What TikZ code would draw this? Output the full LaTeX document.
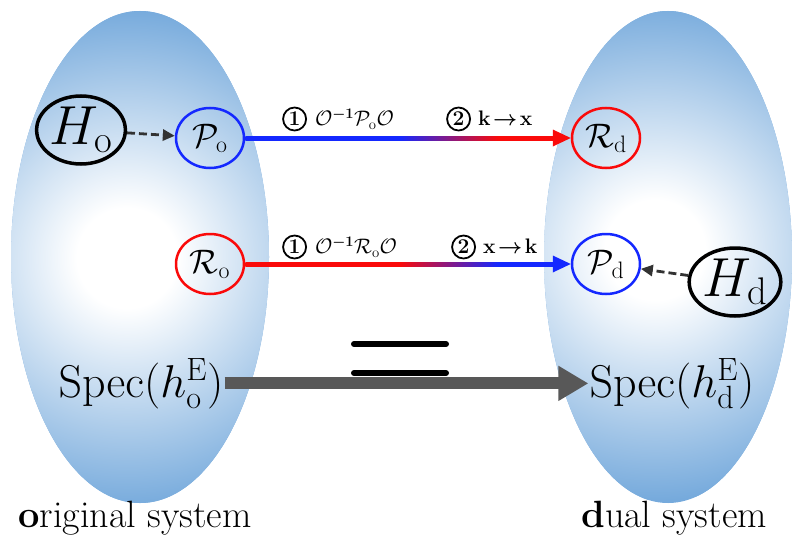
\RequirePackage{fix-cm}
\documentclass[tikz,border=0pt]{standalone}
\usepackage{amsmath,bm}
\usetikzlibrary{shapes.geometric,arrows.meta}
\definecolor{ellblue}{RGB}{118,170,220}
\definecolor{myblue}{RGB}{20,40,255}
\definecolor{myred}{RGB}{250,10,10}
\definecolor{dashgray}{RGB}{50,50,50}
\definecolor{bargray}{RGB}{88,88,88}
\pgfdeclarehorizontalshading{bluered}{100bp}{color(0bp)=(myblue); color(50bp)=(myblue); color(66bp)=(myred); color(100bp)=(myred)}
\pgfdeclarehorizontalshading{redblue}{100bp}{color(0bp)=(myred); color(50bp)=(myred); color(66bp)=(myblue); color(100bp)=(myblue)}
\pgfdeclareradialshading{ellsh}{\pgfpoint{0bp}{0bp}}{color(0bp)=(white); color(5bp)=(white); color(25bp)=(ellblue); color(50bp)=(ellblue)}
\newcommand\cnum[1]{\tikz[baseline=(cn.base)]\node[draw,circle,line width=1.8pt,inner sep=0pt,minimum size=23pt,font=\fontsize{21}{21}\selectfont\bfseries](cn){#1};}
\tikzset{
 pnode/.style={ellipse, draw=myblue, line width=2.5pt, minimum width=68pt, minimum height=60pt, inner sep=0pt, font=\fontsize{34}{34}\selectfont},
 rnode/.style={pnode, draw=myred},
 hnode/.style={ellipse, draw=black, line width=3.5pt, minimum width=86pt, minimum height=68pt, inner sep=0pt, font=\fontsize{55}{55}\selectfont},
 dasharr/.style={draw=dashgray, line width=2.8pt, dash pattern=on 8pt off 4pt, -{Triangle[length=12pt,width=11pt]}},
 lab/.style={font=\fontsize{21}{21}\selectfont, inner sep=0pt, anchor=west},
 spec/.style={font=\fontsize{46}{46}\selectfont, inner sep=1pt, anchor=base},
 sysl/.style={font=\fontsize{38}{38}\selectfont, inner sep=0pt, anchor=base},
}
\begin{document}
\begin{tikzpicture}[x=1pt,y=-1pt]
\useasboundingbox (0,0) rectangle (792,535);
% ellipses
\fill[ellblue] (140,257) ellipse [x radius=129, y radius=246];
\begin{scope}
\clip (140,257) ellipse [x radius=129, y radius=246];
\shade[shading=ellsh] (127,258) circle [radius=250];
\end{scope}
\fill[ellblue] (668,257) ellipse [x radius=124, y radius=246];
\begin{scope}
\clip (668,257) ellipse [x radius=124, y radius=246];
\shade[shading=ellsh] (655,250) circle [radius=250];
\end{scope}
% nodes
\node[hnode] (Ho) at (81,130) {$H_{\mathrm{o}}$};
\node[pnode] (Po) at (210,138) {$\mathcal{P}_{\mathrm{o}}$};
\node[rnode] (Ro) at (210,264) {$\mathcal{R}_{\mathrm{o}}$};
\node[rnode] (Rd) at (606,138) {$\mathcal{R}_{\mathrm{d}}$};
\node[pnode] (Pd) at (606,264) {$\mathcal{P}_{\mathrm{d}}$};
\node[hnode] (Hd) at (735,282) {$H_{\mathrm{d}}$};
\draw[dasharr] (Ho) -- (Po);
\draw[dasharr] (Hd) -- (Pd);
% gradient arrows
\coordinate (a1) at ([xshift=-18pt]Rd.west);
\coordinate (a1b) at ([xshift=1pt]a1);
\shade[shading=bluered] ([yshift=2pt]Po.east) rectangle ([yshift=-2pt]a1b);
\fill[myred] (Rd.west) -- ([yshift=8.5pt]a1) -- ([yshift=-8.5pt]a1) -- cycle;
\coordinate (a2) at ([xshift=-18pt]Pd.west);
\coordinate (a2b) at ([xshift=1pt]a2);
\shade[shading=redblue] ([yshift=2pt]Ro.east) rectangle ([yshift=-2pt]a2b);
\fill[myblue] (Pd.west) -- ([yshift=8.5pt]a2) -- ([yshift=-8.5pt]a2) -- cycle;
% labels
\node[lab] (l1) at (282,119) {\cnum{1}\hspace{8pt}$\mathcal{O}^{\bm{-1}}\mathcal{P}_{\mathrm{o}}\mathcal{O}$};
\node[lab] (l2) at (446,119) {\cnum{2}\hspace{7pt}{\boldmath$\mathbf{k}\!\rightarrow\!\mathbf{x}$}};
\node[lab] (l3) at (282,247) {\cnum{1}\hspace{8pt}$\mathcal{O}^{\bm{-1}}\mathcal{R}_{\mathrm{o}}\mathcal{O}$};
\node[lab] (l4) at (451,247) {\cnum{2}\hspace{7pt}{\boldmath$\mathbf{x}\!\rightarrow\!\mathbf{k}$}};
% spectra
\node[spec] (So) at (141,397) {$\mathrm{Spec}(h_{\mathrm{o}}^{\mathrm{E}})$};
\node[spec] (Sd) at (672,397) {$\mathrm{Spec}(h_{\mathrm{d}}^{\mathrm{E}})$};
\draw[bargray, line width=12pt, -{Triangle[length=30pt,width=33pt]}] (So.east) -- (Sd.west);
\draw[line width=6pt, line cap=round] (354,344) -- (446,344) (354,373) -- (446,373);
% system labels
\node[sysl] (os) at (135,527) {\textbf{o}riginal system};
\node[sysl] (ds) at (674,527) {\textbf{d}ual system};
\end{tikzpicture}
\end{document}
